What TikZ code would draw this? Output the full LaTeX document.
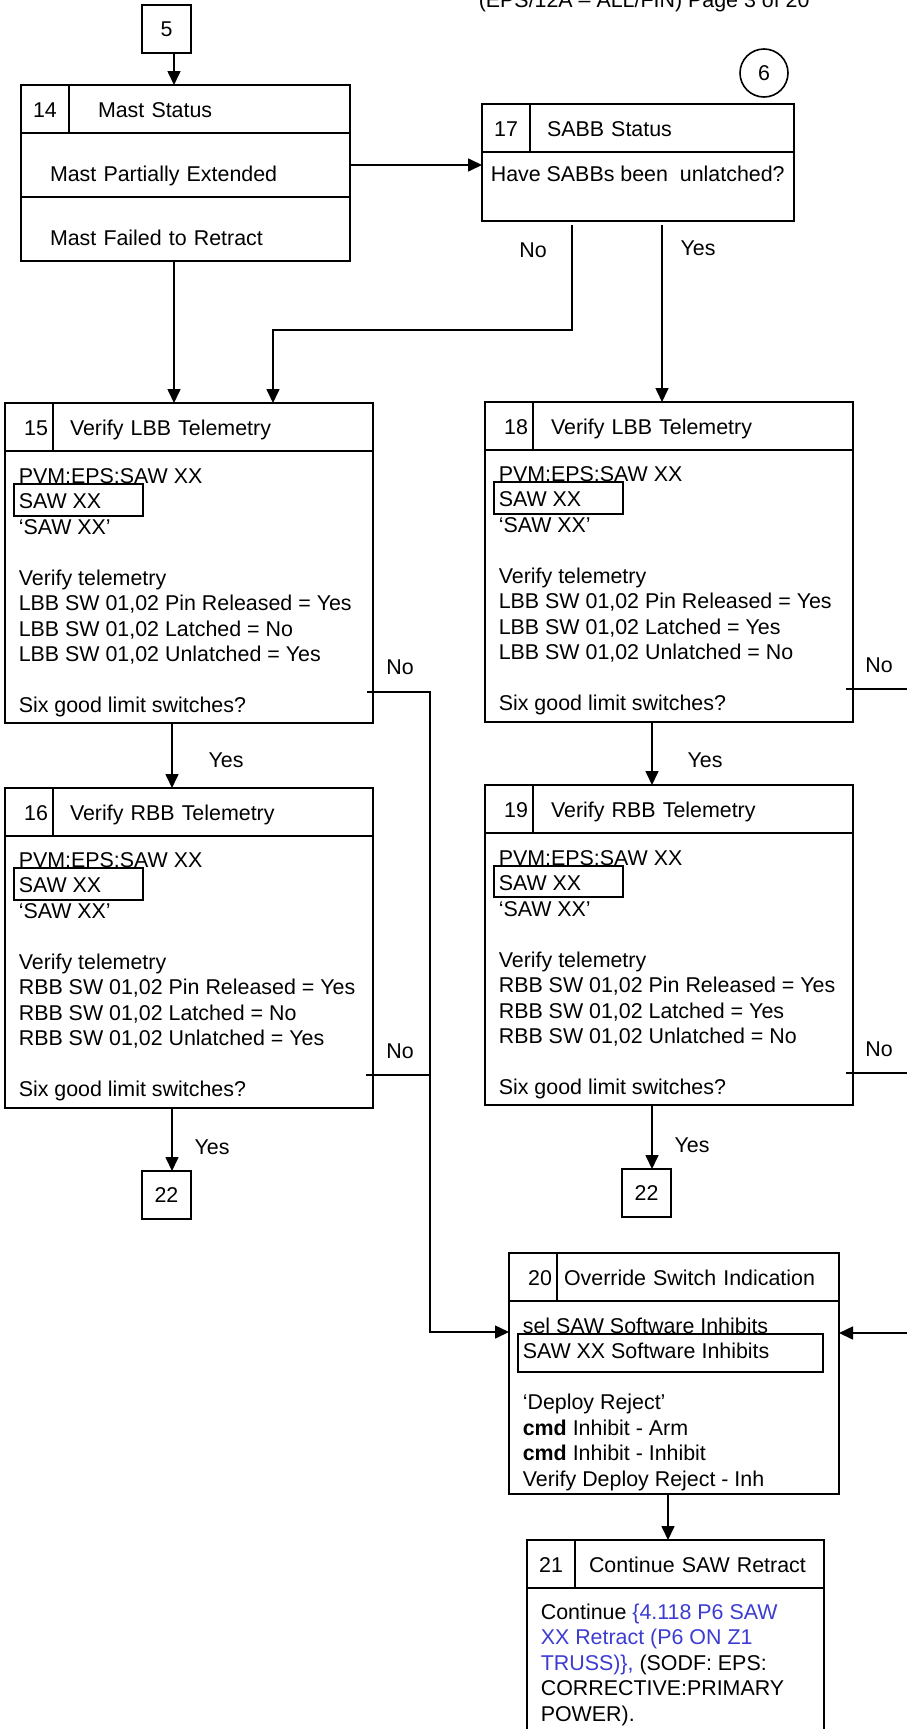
\documentclass[tikz,border=0pt]{standalone}
\usepackage{fontspec}
\setmainfont{Liberation Sans}
\usetikzlibrary{arrows.meta}
\definecolor{linkblue}{RGB}{60,60,210}
\begin{document}
\begin{tikzpicture}[
    x=1pt, y=-1pt, line width=1.6pt,
    font=\fontsize{21.4}{25.5}\selectfont,
    cell/.style={draw, inner sep=0pt, outer sep=0pt, minimum height=48pt, anchor=north west, text height=16pt, text depth=0pt},
    numc/.style={cell, minimum width=48pt},
    numr/.style={cell, minimum width=48pt, text width=38pt, align=right},
    ttl/.style={cell, align=left},
    seg/.style={draw, inner sep=0pt, outer sep=0pt, anchor=north west, minimum width=329pt, minimum height=64pt, text width=271pt, align=left, text height=32pt, text depth=0pt},
    body/.style={draw, inner sep=0pt, outer sep=0pt, anchor=north west},
    txt/.style={anchor=base west, align=left, inner sep=0pt},
    frm/.style={draw, inner sep=0pt, outer sep=0pt, anchor=north west},
    term/.style={draw, inner sep=0pt, outer sep=0pt, minimum width=49pt, minimum height=48pt},
    lbl/.style={inner sep=0pt},
    arr/.style={-{Triangle[length=14pt,width=13pt]}}
]
\useasboundingbox (0,0) rectangle (907,1729);

\node[lbl, anchor=base west] (page) at (478,8) {(EPS/12A – ALL/FIN) Page 3 of 20};
\node[term] (c5) at (166.5,29) {5};
\node[draw, circle, minimum size=48pt, inner sep=0pt] (c6) at (764,73) {6};

% mast status
\node[numc] (n14) at (21,85) {14};
\node[ttl, minimum width=281pt, text width=223pt] (t14) at (n14.north east) {Mast Status};
\node[seg] (m14) at (n14.south west) {Mast Partially Extended};
\node[seg] (f14) at (m14.south west) {Mast Failed to Retract};

% sabb status
\node[numc] (n17) at (482,104) {17};
\node[ttl, minimum width=264pt, text width=230pt] (t17) at (n17.north east) {SABB Status};
\node[body, minimum width=312pt, minimum height=69pt] (b17) at (n17.south west) {};
\node[txt] (x17) at (490,181) {Have SABBs been\ \ unlatched?};

% left column (text anchored on its last line)
\node[numr] (n15) at (5,403) {15};
\node[ttl, minimum width=320pt, text width=286pt] (t15) at (n15.north east) {Verify LBB Telemetry};
\node[body, minimum width=368pt, minimum height=272pt] (b15) at (n15.south west) {};
\node[txt] (x15) at (18,712.5) {PVM:EPS:SAW XX\\SAW XX\\‘SAW XX’\\[25.5pt]Verify telemetry\\LBB SW 01,02 Pin Released = Yes\\LBB SW 01,02 Latched = No\\LBB SW 01,02 Unlatched = Yes\\[25.5pt]Six good limit switches?};
\node[frm, minimum width=129pt, minimum height=32pt] (s15) at (14,484) {};

\node[numr] (n16) at (5,788) {16};
\node[ttl, minimum width=320pt, text width=286pt] (t16) at (n16.north east) {Verify RBB Telemetry};
\node[body, minimum width=368pt, minimum height=272pt] (b16) at (n16.south west) {};
\node[txt] (x16) at (18,1096.5) {PVM:EPS:SAW XX\\SAW XX\\‘SAW XX’\\[25.5pt]Verify telemetry\\RBB SW 01,02 Pin Released = Yes\\RBB SW 01,02 Latched = No\\RBB SW 01,02 Unlatched = Yes\\[25.5pt]Six good limit switches?};
\node[frm, minimum width=129pt, minimum height=32pt] (s16) at (14,868) {};

\node[term, anchor=north west] (e22a) at (142,1171) {22};

% right column
\node[numr] (n18) at (485,402) {18};
\node[ttl, minimum width=320pt, text width=284pt] (t18) at (n18.north east) {Verify LBB Telemetry};
\node[body, minimum width=368pt, minimum height=272pt] (b18) at (n18.south west) {};
\node[txt] (x18) at (498,710.5) {PVM:EPS:SAW XX\\SAW XX\\‘SAW XX’\\[25.5pt]Verify telemetry\\LBB SW 01,02 Pin Released = Yes\\LBB SW 01,02 Latched = Yes\\LBB SW 01,02 Unlatched = No\\[25.5pt]Six good limit switches?};
\node[frm, minimum width=129pt, minimum height=32pt] (s18) at (494,482) {};

\node[numr] (n19) at (485,785) {19};
\node[ttl, minimum width=320pt, text width=284pt] (t19) at (n19.north east) {Verify RBB Telemetry};
\node[body, minimum width=368pt, minimum height=272pt] (b19) at (n19.south west) {};
\node[txt] (x19) at (498,1094.5) {PVM:EPS:SAW XX\\SAW XX\\‘SAW XX’\\[25.5pt]Verify telemetry\\RBB SW 01,02 Pin Released = Yes\\RBB SW 01,02 Latched = Yes\\RBB SW 01,02 Unlatched = No\\[25.5pt]Six good limit switches?};
\node[frm, minimum width=129pt, minimum height=31pt] (s19) at (494,866) {};

\node[term, anchor=north west] (e22b) at (622,1169) {22};

% override and continue
\node[numr] (n20) at (509,1253) {20};
\node[ttl, minimum width=282pt, text width=268pt] (t20) at (n20.north east) {Override Switch Indication};
\node[body, minimum width=330pt, minimum height=193pt] (b20) at (n20.south west) {};
\node[txt] (x20) at (522,1486) {sel SAW Software Inhibits\\SAW XX Software Inhibits\\[25.5pt]‘Deploy Reject’\\\textbf{cmd} Inhibit - Arm\\\textbf{cmd} Inhibit - Inhibit\\Verify Deploy Reject - Inh};
\node[frm, minimum width=305pt, minimum height=38pt] (s20) at (518,1334) {};

\node[numc] (n21) at (527,1540) {21};
\node[ttl, minimum width=249pt, text width=221pt] (t21) at (n21.north east) {Continue SAW Retract};
\node[body, minimum width=297pt, minimum height=220pt] (b21) at (n21.south west) {};
\node[txt] (x21) at (540,1721) {Continue \textcolor{linkblue}{\{4.118 P6 SAW}\\\textcolor{linkblue}{XX Retract (P6 ON Z1}\\\textcolor{linkblue}{TRUSS)\},} (SODF: EPS:\\CORRECTIVE:PRIMARY\\POWER).};

\coordinate (colA) at (174,0);
\coordinate (colB) at (172,0);
\coordinate (colC) at (662,0);
\coordinate (colD) at (652,0);
\coordinate (colE) at (668,0);
\coordinate (noA) at (572,225);
\coordinate (yesA) at (662,225);
\coordinate (kink) at (273,330);
\coordinate (no15) at (367,692);
\coordinate (no16) at (366,1075);
\coordinate (in20) at (430,1332);
\coordinate (no18) at (846,689);
\coordinate (no19) at (846,1073);
\coordinate (in20r) at (907,1333);

\draw[arr] (c5.south -| colA) -- (t14.north -| colA);
\draw[arr] (f14.south -| colA) -- (t15.north -| colA);
\draw[arr] (m14.east) -- (b17.west |- m14.east);
\draw[arr] (noA) |- (kink) -- (kink |- t15.north);
\draw[arr] (yesA) -- (yesA |- t18.north);
\node[lbl] (no17) at (533,250) {No};
\node[lbl] (yes17) at (698,248) {Yes};

\draw[arr] (b15.south -| colB) -- (t16.north -| colB);
\node[lbl] (yes15) at (226,760) {Yes};
\draw[arr] (b16.south -| colB) -- (e22a.north -| colB);
\node[lbl] (yes16) at (212,1147) {Yes};
\draw[arr] (no15) -| (in20) -- (in20 -| b20.west);
\draw (no16) -- (no16 -| in20);
\node[lbl] (lno15) at (400,667) {No};
\node[lbl] (lno16) at (400,1051) {No};

\draw[arr] (b18.south -| colD) -- (t19.north -| colD);
\node[lbl] (yes18) at (705,760) {Yes};
\draw[arr] (b19.south -| colD) -- (e22b.north -| colD);
\node[lbl] (yes19) at (692,1145) {Yes};
\draw (no18) -- (no18 -| in20r);
\draw (no19) -- (no19 -| in20r);
\draw[arr] (in20r) -- (in20r -| b20.east);
\node[lbl] (lno18) at (879,665) {No};
\node[lbl] (lno19) at (879,1049) {No};

\draw[arr] (b20.south -| colE) -- (t21.north -| colE);
\end{tikzpicture}
\end{document}
